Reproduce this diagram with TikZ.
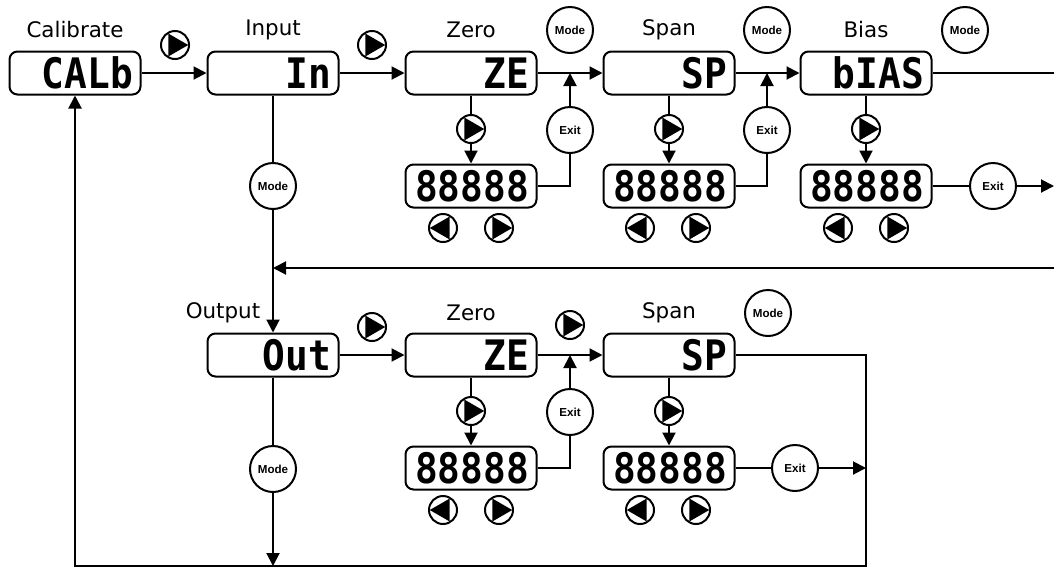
\documentclass[tikz,border=0pt]{standalone}
\usepackage{fontspec}
\setmainfont{DejaVu Sans}
\newfontfamily\segfont{DejaVu Sans Mono}[FakeStretch=0.9]
\newfontfamily\keyfont{Liberation Sans}
\usetikzlibrary{arrows.meta,positioning,calc}

\tikzset{
  lcd/.style={draw, line width=1pt, rounded corners=4pt, minimum height=21.5pt,
    text width=58pt, inner xsep=3.75pt, inner ysep=0pt, text height=15pt, text depth=0pt,
    align=right, font=\segfont\bfseries\fontsize{21}{21}\selectfont},
  modekey/.style={draw, circle, line width=1pt, minimum size=23pt, inner sep=0pt,
    font=\keyfont\bfseries\fontsize{5.8}{6}\selectfont},
  btn/.style={draw, circle, line width=1pt, minimum size=14pt, inner sep=0pt},
  fwdbtn/.style={btn, path picture={
    \fill ([shift={(0:6.6pt)}]path picture bounding box.center)
      -- ([shift={(120:6.6pt)}]path picture bounding box.center)
      -- ([shift={(240:6.6pt)}]path picture bounding box.center) -- cycle;}},
  bwdbtn/.style={btn, path picture={
    \fill ([shift={(180:6.6pt)}]path picture bounding box.center)
      -- ([shift={(60:6.6pt)}]path picture bounding box.center)
      -- ([shift={(300:6.6pt)}]path picture bounding box.center) -- cycle;}},
  lbl/.style={font=\fontsize{10.7}{12}\selectfont},
  wire/.style={line width=1pt},
  flowline/.style={wire, -{Triangle[length=6.5pt,width=6.5pt]}}
}

\begin{document}
\begin{tikzpicture}[x=0.5pt, y=-0.5pt]
  \useasboundingbox (0,0) rectangle (1054,569);

  % upper row
  \node[lbl] (cal-l) at (75,30) {Calibrate};
  \node[lbl] (inp-l) at (273,30) {Input};
  \node[lbl] (zero1-l) at (471,30) {Zero};
  \node[lbl] (span1-l) at (669,30) {Span};
  \node[lbl] (bias-l) at (866,30) {Bias};

  \node[lcd] (cal) at (75,73) {CALb};
  \node[lcd] (inp) at (273,73) {In};
  \node[lcd] (zero1) at (471,73) {ZE};
  \node[lcd] (span1) at (669,73) {SP};
  \node[lcd] (bias) at (866,73) {bIAS};

  \node[fwdbtn] (nxt-a) at (175,45) {};
  \node[fwdbtn] (nxt-b) at (372,45) {};
  \node[modekey] (mode-a) at (570,30) {Mode};
  \node[modekey] (mode-b) at (767,30) {Mode};
  \node[modekey] (mode-c) at (965,30) {Mode};

  \node[fwdbtn] (zero1-k) at (471,129) {};
  \node[lcd] (zero1-d) at (471,186) {88888};
  \node[modekey] (zero1-x) at (570,130) {Exit};
  \node[bwdbtn] (zero1-lt) at (443,228) {};
  \node[fwdbtn] (zero1-rt) at (499,228) {};

  \node[fwdbtn] (span1-k) at (669,129) {};
  \node[lcd] (span1-d) at (669,186) {88888};
  \node[modekey] (span1-x) at (767,130) {Exit};
  \node[bwdbtn] (span1-lt) at (640,228) {};
  \node[fwdbtn] (span1-rt) at (696,228) {};

  \node[fwdbtn] (bias-k) at (866,129) {};
  \node[lcd] (bias-d) at (866,186) {88888};
  \node[modekey] (bias-x) at (993,186) {Exit};
  \node[bwdbtn] (bias-lt) at (838,228) {};
  \node[fwdbtn] (bias-rt) at (894,228) {};

  \node[modekey] (inp-m) at (273,186) {Mode};

  \coordinate (bias-end) at (1054,73);
  \coordinate (bias-out) at (1054,186);
  \coordinate (ret) at (1054,268);

  % lower row
  \node[lbl] (out-l) at (223,313) {Output};
  \node[lbl] (zero2-l) at (471,313) {Zero};
  \node[lbl] (span2-l) at (669,313) {Span};

  \node[lcd] (out) at (273,355) {Out};
  \node[lcd] (zero2) at (471,355) {ZE};
  \node[lcd] (span2) at (669,355) {SP};

  \node[fwdbtn] (nxt-c) at (372,327) {};
  \node[fwdbtn] (nxt-d) at (570,325) {};
  \node[modekey] (mode-d) at (768,313) {Mode};

  \node[fwdbtn] (zero2-k) at (471,411) {};
  \node[lcd] (zero2-d) at (471,468) {88888};
  \node[modekey] (zero2-x) at (570,412) {Exit};
  \node[bwdbtn] (zero2-lt) at (443,510) {};
  \node[fwdbtn] (zero2-rt) at (499,510) {};

  \node[fwdbtn] (span2-k) at (669,411) {};
  \node[lcd] (span2-d) at (669,468) {88888};
  \node[modekey] (span2-x) at (795,468) {Exit};
  \node[bwdbtn] (span2-lt) at (640,510) {};
  \node[fwdbtn] (span2-rt) at (696,510) {};

  \node[modekey] (out-m) at (273,469) {Mode};
  \coordinate (turn) at (866,566);

  % connectors
  \draw[flowline] (cal) -- (inp);
  \draw[flowline] (inp) -- (zero1);
  \draw[flowline] (zero1) -- (span1);
  \draw[flowline] (span1) -- (bias);
  \draw[wire] (bias.east) -- (bias-end);

  \draw[wire] (zero1) -- (zero1-k);
  \draw[flowline] (zero1-k) -- (zero1-d);
  \draw[wire] (zero1-d.east) -| (zero1-x.south);
  \draw[flowline] (zero1-x.north) -- (zero1-x |- zero1.east);

  \draw[wire] (span1) -- (span1-k);
  \draw[flowline] (span1-k) -- (span1-d);
  \draw[wire] (span1-d.east) -| (span1-x.south);
  \draw[flowline] (span1-x.north) -- (span1-x |- span1.east);

  \draw[wire] (bias) -- (bias-k);
  \draw[flowline] (bias-k) -- (bias-d);
  \draw[wire] (bias-d) -- (bias-x);
  \draw[flowline] (bias-x.east) -- (bias-out);

  \draw[wire] (inp) -- (inp-m);
  \draw[flowline] (inp-m) -- (out);
  \draw[flowline] (ret) -- (ret -| inp-m);

  \draw[flowline] (out) -- (zero2);
  \draw[flowline] (zero2) -- (span2);

  \draw[wire] (zero2) -- (zero2-k);
  \draw[flowline] (zero2-k) -- (zero2-d);
  \draw[wire] (zero2-d.east) -| (zero2-x.south);
  \draw[flowline] (zero2-x.north) -- (zero2-x |- zero2.east);

  \draw[wire] (span2) -- (span2-k);
  \draw[flowline] (span2-k) -- (span2-d);
  \draw[wire] (span2-d) -- (span2-x);
  \draw[flowline] (span2-x.east) -- (span2-x -| turn);

  \draw[wire] (out) -- (out-m);
  \draw[flowline] (out-m.south) -- (out-m |- turn);
  \draw[flowline] (span2.east) -| (turn) -| (cal.south);
\end{tikzpicture}
\end{document}
